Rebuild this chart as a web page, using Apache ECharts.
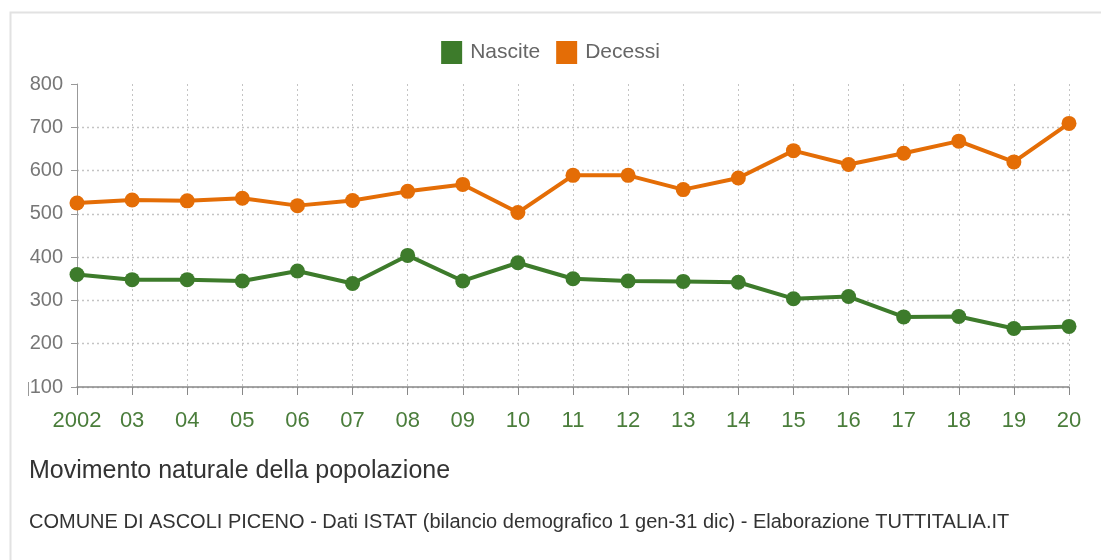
<!DOCTYPE html>
<html><head><meta charset="utf-8">
<script src="https://cdn.jsdelivr.net/npm/echarts@6/dist/echarts.min.js"></script>
<style>html,body{margin:0;padding:0;background:#fff}#c{width:1101px;height:560px}</style>
</head><body><div id="c"></div>
<script>
const categories = ['2002','03','04','05','06','07','08','09','10','11','12','13','14','15','16','17','18','19','20'];
const nascite = [360,348,348,345,368,339,404,345,387,350,345,344,342,304,309,262,263,235,240];
const decessi = [525,532,530,536,519,531,552,568,503,589,589,556,583,646,614,640,668,620,709];
const yTicks = [100,200,300,400,500,600,700,800];
const F = '"Liberation Sans Narrow","Liberation Sans",Arial,sans-serif';
const chart = echarts.init(document.getElementById('c'));
chart.setOption({
  animation:false,
  backgroundColor:'#fff',
  graphic:[
    {type:'rect',shape:{x:10.5,y:12.5,width:1100,height:560},style:{fill:'none',stroke:'#e2e2e2',lineWidth:2},silent:true},
    {type:'line',shape:{x1:28.5,y1:382,x2:28.5,y2:396},style:{stroke:'#999',lineWidth:1}}
  ],
  title:[
    {text:'Movimento naturale della popolazione',left:24,top:454,textStyle:{fontFamily:F,fontSize:25,fontWeight:'normal',color:'#333'}},
    {text:'COMUNE DI ASCOLI PICENO - Dati ISTAT (bilancio demografico 1 gen-31 dic) - Elaborazione TUTTITALIA.IT',left:24,top:507,textStyle:{fontFamily:F,fontSize:20,fontWeight:'normal',color:'#333'}}
  ],
  legend:{
    top:36,left:'center',itemWidth:21,itemHeight:23,itemGap:16,icon:'rect',
    textStyle:{fontFamily:F,fontSize:21,color:'#666',padding:[0,0,0,3]},
    data:['Nascite','Decessi']
  },
  grid:{left:77,right:32,top:84,bottom:173,containLabel:false},
  xAxis:{
    type:'category',data:categories,boundaryGap:false,
    axisLine:{lineStyle:{color:'#888',width:1.5}},
    axisTick:{show:true,length:8,interval:0,lineStyle:{color:'#888'}},
    axisLabel:{fontFamily:F,fontSize:22,color:'#4a7d3b',margin:23,interval:0},
    splitLine:{show:true,interval:0,lineStyle:{color:'#c4c4c4',type:[2,3],width:1}}
  },
  yAxis:{
    type:'value',min:100,max:800,interval:100,
    axisLine:{show:true,lineStyle:{color:'#999',width:1}},
    axisTick:{show:true,length:6,lineStyle:{color:'#999'}},
    axisLabel:{fontFamily:F,fontSize:20,color:'#777',margin:14,formatter:v=>yTicks.includes(v)?String(v):''},
    splitLine:{show:true,lineStyle:{color:['#c4c4c4','#c4c4c4','#c4c4c4','#c4c4c4','#c4c4c4','#c4c4c4','#c4c4c4','rgba(0,0,0,0)'],type:[2,3],width:1.3}}
  },
  series:[
    {name:'Nascite',type:'line',data:nascite,symbol:'circle',symbolSize:15,
     lineStyle:{color:'#3d7b2b',width:4},itemStyle:{color:'#3d7b2b'}},
    {name:'Decessi',type:'line',data:decessi,symbol:'circle',symbolSize:15,
     lineStyle:{color:'#e46d06',width:4},itemStyle:{color:'#e46d06'}}
  ]
});
</script></body></html>
